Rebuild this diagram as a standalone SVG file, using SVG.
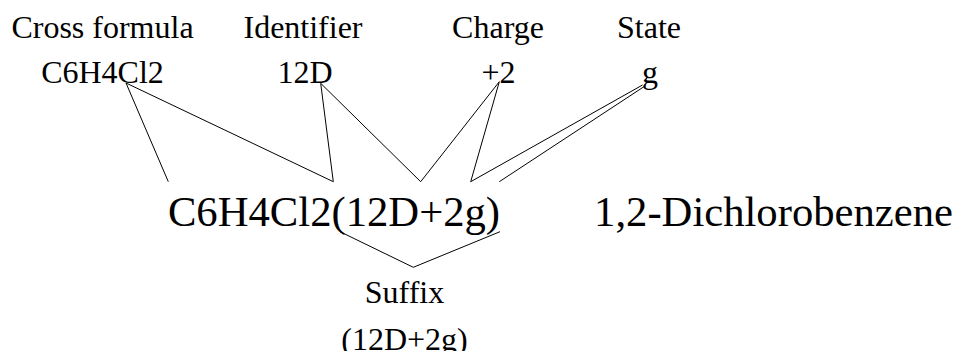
<svg xmlns="http://www.w3.org/2000/svg" width="957" height="351" viewBox="0 0 957 351">
<style>
text{font-family:"Liberation Serif","Times New Roman",serif;fill:#000;text-anchor:middle}
.s{font-size:32px}
.b{font-size:42.67px}
.c line,.c polyline{stroke:#000;stroke-width:1;fill:none}
</style>
<rect width="957" height="351" fill="#fff"/>
<g id="cross-formula"><text class="s" x="102.5" y="38">Cross formula</text><text class="s" x="102.5" y="83">C6H4Cl2</text></g>
<g id="identifier"><text class="s" x="303" y="38">Identifier</text><text class="s" x="305" y="83">12D</text></g>
<g id="charge"><text class="s" x="498" y="38">Charge</text><text class="s" x="498.5" y="83">+2</text></g>
<g id="state"><text class="s" x="649" y="38">State</text><text class="s" x="650" y="83">g</text></g>
<g id="full-name"><text class="b" x="334" y="226">C6H4Cl2(12D+2g)</text></g>
<g id="common-name"><text class="b" x="773.5" y="226">1,2-Dichlorobenzene</text></g>
<g id="suffix"><text class="s" x="404.5" y="303">Suffix</text><text class="s" x="404.5" y="350">(12D+2g)</text></g>
<g class="c" id="connectors">
<line x1="126" y1="83" x2="168.3" y2="181.7"/>
<line x1="126" y1="83" x2="333.3" y2="181.7"/>
<line x1="320.7" y1="83.3" x2="333.3" y2="181.7"/>
<line x1="320.7" y1="83.3" x2="420.7" y2="181.7"/>
<line x1="499.3" y1="81.7" x2="420.7" y2="181.7"/>
<line x1="499.3" y1="81.7" x2="470.7" y2="181.7"/>
<line x1="642.5" y1="85" x2="470.7" y2="181.7"/>
<line x1="645" y1="86" x2="499.3" y2="181.7"/>
<polyline points="340,231.7 413.3,267.3 500,231.7"/>
</g>
</svg>
